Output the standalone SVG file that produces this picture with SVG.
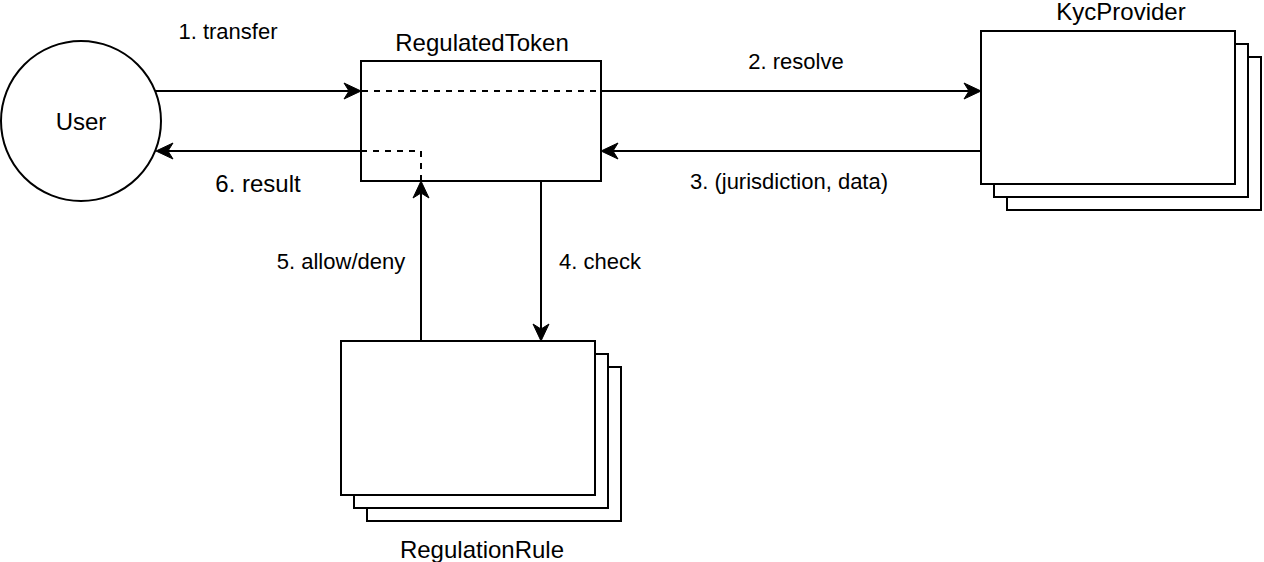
<svg xmlns="http://www.w3.org/2000/svg" width="1264" height="562" viewBox="0 0 1264 562">
<style>
.shape{fill:#fff;stroke:#000;stroke-width:2}
.edge{fill:none;stroke:#000;stroke-width:2}
.dash{fill:none;stroke:#000;stroke-width:2;stroke-dasharray:6 6}
.lbl{font-family:"Liberation Sans",Arial,sans-serif;font-size:22px;fill:#000;text-anchor:middle}
.nlbl{font-family:"Liberation Sans",Arial,sans-serif;font-size:24px;fill:#000;text-anchor:middle}
</style>
<defs>
<marker id="arr" markerUnits="userSpaceOnUse" viewBox="-20 -10 30 20" refX="0" refY="0" markerWidth="30" markerHeight="20" orient="auto">
<path d="M6,0 L-11,-8 L-6,0 L-11,8 Z" fill="#000" stroke="#000" stroke-width="1"/>
</marker>
</defs>
<rect width="1264" height="562" fill="#fff"/>
<g id="user">
<circle class="shape" cx="81" cy="121" r="80"/>
<text class="nlbl" x="81" y="130">User</text>
</g>
<g id="regulatedToken">
<rect class="shape" x="361" y="61" width="240" height="120"/>
<text class="nlbl" x="482" y="51">RegulatedToken</text>
</g>
<g id="kycProvider">
<rect class="shape" x="1007" y="57" width="254" height="153"/>
<rect class="shape" x="994" y="44" width="254" height="153"/>
<rect class="shape" x="981" y="31" width="254" height="153"/>
<text class="nlbl" x="1121" y="20">KycProvider</text>
</g>
<g id="regulationRule">
<rect class="shape" x="367" y="367" width="254" height="154"/>
<rect class="shape" x="354" y="354" width="254" height="154"/>
<rect class="shape" x="341" y="341" width="254" height="154"/>
<text class="nlbl" x="482" y="558">RegulationRule</text>
</g>
<g id="connectors">
<path class="edge" d="M155,91 H355" marker-end="url(#arr)"/>
<path class="dash" d="M362,91 H601"/>
<path class="edge" d="M601,91 H975" marker-end="url(#arr)"/>
<path class="edge" d="M981,151 H607" marker-end="url(#arr)"/>
<path class="edge" d="M541,181 V335" marker-end="url(#arr)"/>
<path class="edge" d="M421,341 V187" marker-end="url(#arr)"/>
<path class="dash" d="M421,181 V151 H362"/>
<path class="edge" d="M361,151 H162" marker-end="url(#arr)"/>
<text class="lbl" x="228" y="39">1. transfer</text>
<text class="lbl" x="796" y="69">2. resolve</text>
<text class="lbl" x="789" y="189">3. (jurisdiction, data)</text>
<text class="lbl" x="600" y="269">4. check</text>
<text class="lbl" x="341" y="269">5. allow/deny</text>
<text class="nlbl" x="258" y="192">6. result</text>
</g>
</svg>
